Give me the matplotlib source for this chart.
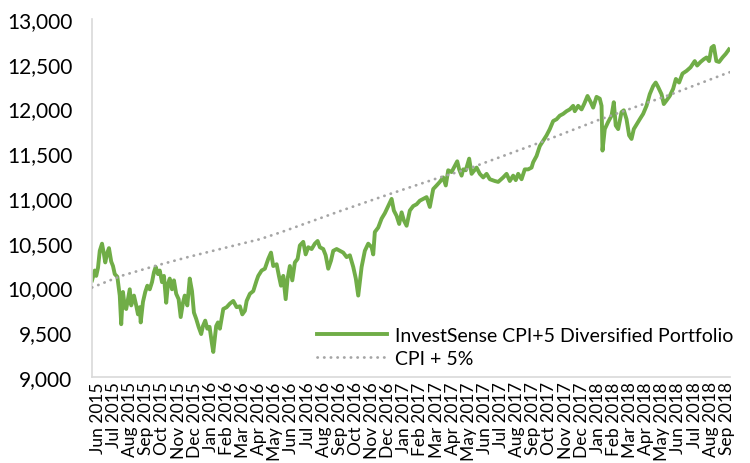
import matplotlib
matplotlib.use('Agg')
import matplotlib.pyplot as plt
import pandas as pd
from matplotlib.ticker import FuncFormatter

plt.rcParams['font.family'] = ['Lato', 'DejaVu Sans']

# month labels on the x axis (one per month, Jun 2015 .. Sep 2018)
month_labels = list(pd.date_range('2015-06-01', '2018-09-01', freq='MS').strftime('%b %Y'))

# portfolio value; t = months since Jun 2015
port_t = [-0.37, -0.20, -0.11, 0.00, 0.11, 0.25, 0.37, 0.45, 0.58, 0.68, 0.82, 0.93,
          1.04, 1.20, 1.35, 1.44, 1.55, 1.66, 1.75, 1.97, 2.06, 2.23, 2.37, 2.48,
          2.59, 2.65, 2.79, 2.93, 3.06, 3.21, 3.35, 3.47, 3.58, 3.72, 3.83, 3.97,
          4.09, 4.23, 4.34, 4.45, 4.59, 4.71, 4.85, 5.00, 5.13, 5.27, 5.38, 5.54,
          5.69, 5.83, 5.95, 6.09, 6.24, 6.40, 6.51, 6.65, 6.78, 6.92, 7.07, 7.15,
          7.33, 7.44, 7.56, 7.77, 7.98, 8.18, 8.39, 8.60, 8.80, 8.95, 9.11, 9.22,
          9.42, 9.63, 9.84, 9.94, 10.15, 10.35, 10.56, 10.73, 10.87, 11.08, 11.22, 11.35,
          11.49, 11.64, 11.76, 11.90, 12.05, 12.21, 12.38, 12.52, 12.73, 12.88, 13.04, 13.25,
          13.45, 13.62, 13.76, 13.97, 14.12, 14.28, 14.45, 14.59, 14.80, 15.00, 15.21, 15.42,
          15.62, 15.83, 15.99, 16.14, 16.35, 16.55, 16.76, 16.97, 17.07, 17.17, 17.38, 17.59,
          17.79, 18.00, 18.21, 18.35, 18.52, 18.68, 18.83, 18.97, 19.14, 19.34, 19.55, 19.76,
          19.96, 20.17, 20.38, 20.58, 20.79, 21.00, 21.20, 21.41, 21.57, 21.72, 21.93, 22.13,
          22.28, 22.40, 22.55, 22.65, 22.81, 23.02, 23.17, 23.48, 23.68, 23.89, 24.10, 24.30,
          24.61, 24.82, 25.13, 25.34, 25.54, 25.75, 25.91, 26.06, 26.27, 26.47, 26.68, 26.89,
          26.99, 27.20, 27.40, 27.61, 27.82, 28.02, 28.23, 28.44, 28.64, 28.85, 29.06, 29.26,
          29.47, 29.57, 29.78, 29.99, 30.15, 30.36, 30.56, 30.71, 30.92, 31.12, 31.23, 31.29,
          31.43, 31.64, 31.85, 31.99, 32.11, 32.26, 32.47, 32.61, 32.78, 32.94, 33.09, 33.23,
          33.43, 33.60, 33.81, 34.02, 34.22, 34.43, 34.59, 34.74, 34.95, 35.09, 35.26, 35.46,
          35.67, 35.84, 36.04, 36.25, 36.50, 36.75, 37.01, 37.16, 37.37, 37.57, 37.74, 37.90,
          38.05, 38.19, 38.35, 38.52, 38.73, 38.93, 39.13]
port_val = [10080, 10190, 10130, 10220, 10410, 10490, 10370, 10280, 10390, 10440, 10290, 10240,
            10150, 10120, 9910, 9590, 9950, 9780, 9760, 9980, 9800, 9910, 9800, 9700,
            9780, 9610, 9840, 9950, 10020, 9980, 10060, 10170, 10230, 10150, 10190, 10060,
            10130, 9830, 10040, 10100, 9980, 10080, 9930, 9870, 9670, 9830, 9910, 9800,
            10100, 9960, 9720, 9650, 9560, 9480, 9570, 9630, 9540, 9560, 9370, 9280,
            9570, 9610, 9540, 9760, 9780, 9820, 9850, 9780, 9790, 9700, 9740, 9850,
            9930, 9960, 10080, 10130, 10190, 10210, 10320, 10390, 10240, 10260, 10130, 10020,
            10130, 9870, 10100, 10240, 10080, 10280, 10320, 10470, 10510, 10370, 10450, 10430,
            10490, 10520, 10450, 10430, 10360, 10210, 10300, 10410, 10430, 10410, 10390, 10340,
            10360, 10230, 10100, 9910, 10230, 10410, 10490, 10450, 10370, 10620, 10670, 10770,
            10830, 10910, 10990, 10860, 10800, 10710, 10840, 10750, 10690, 10860, 10910, 10930,
            10970, 10990, 11010, 10900, 11100, 11140, 11180, 11230, 11140, 11310, 11290, 11360,
            11410, 11320, 11250, 11320, 11310, 11440, 11270, 11340, 11270, 11230, 11270, 11210,
            11190, 11180, 11230, 11270, 11190, 11250, 11200, 11270, 11210, 11320, 11320, 11340,
            11400, 11470, 11580, 11640, 11700, 11770, 11860, 11880, 11920, 11940, 11970, 11990,
            12030, 11970, 12030, 11990, 12050, 12140, 12070, 12010, 12130, 12110, 12030, 11530,
            11770, 11850, 11920, 12070, 11810, 11770, 11960, 11980, 11880, 11700, 11660, 11770,
            11830, 11880, 11940, 12030, 12160, 12250, 12290, 12240, 12160, 12050, 12090, 12140,
            12220, 12330, 12290, 12390, 12420, 12460, 12530, 12480, 12520, 12550, 12570, 12530,
            12680, 12700, 12530, 12520, 12570, 12610, 12660]

# CPI + 5% benchmark
cpi_t = [-0.37, 1.44, 3.52, 5.58, 7.13, 10.04, 11.39, 15.11, 18.10, 21.20,
         22.86, 27.71, 31.02, 35.57, 39.08, 39.18]
cpi_val = [10000, 10130, 10240, 10340, 10410, 10540, 10620, 10860, 11045, 11230,
           11320, 11640, 11870, 12160, 12400, 12405]

fig = plt.figure(figsize=(7.5, 4.64), dpi=100)
ax = fig.add_axes([0.1227, 0.1853, 0.8507, 0.7716])

ax.plot(port_t, port_val, color='#70AD47', lw=2.8, solid_joinstyle='round',
        label='InvestSense CPI+5 Diversified Portfolio', zorder=2)
ax.plot(cpi_t, cpi_val, color='#A5A5A5', lw=2.0, linestyle=(0, (0.1, 2.3)),
        dash_capstyle='round', label='CPI + 5%', zorder=3)

ax.set_xlim(-0.37, 39.2)
ax.set_ylim(9000, 13000)
ax.set_yticks(range(9000, 13001, 500))
ax.yaxis.set_major_formatter(FuncFormatter(lambda v, p: f'{int(v):,}'))
ax.set_xticks(range(len(month_labels)))
ax.set_xticklabels(month_labels, rotation=90)

for s in ['top', 'right']:
    ax.spines[s].set_visible(False)
for s in ['left', 'bottom']:
    ax.spines[s].set_color('#D9D9D9')
    ax.spines[s].set_linewidth(1.2)
ax.tick_params(length=0, colors='black')
ax.tick_params(axis='y', labelsize=15, pad=14)
ax.tick_params(axis='x', labelsize=12.5, pad=3)

ax.legend(loc='lower right', bbox_to_anchor=(1.032, -0.02), frameon=False, fontsize=14,
          handlelength=3.6, handletextpad=0.4, labelspacing=0.3)

fig.savefig('out.png', dpi=100)
